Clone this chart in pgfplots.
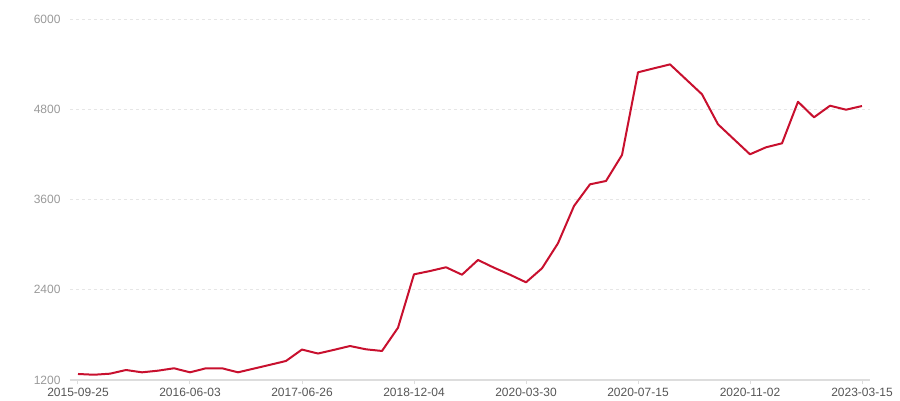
\documentclass[border=0pt]{standalone}
\usepackage{pgfplots}
\pgfplotsset{compat=1.18}
\usepackage{fontspec}
\setmainfont{Liberation Sans}
\definecolor{linered}{HTML}{C8102E}
\definecolor{axisgray}{HTML}{DDDDDD}
\definecolor{gridgray}{HTML}{E6E6E6}
\definecolor{xlab}{HTML}{555555}
\definecolor{ylab}{HTML}{999999}
\begin{document}
\begin{tikzpicture}
\path[use as bounding box] (-70pt,-20pt) rectangle (830pt,380pt);
\begin{axis}[
  at={(0,0)}, anchor=south west,
  scale only axis,
  width=800pt, height=361pt,
  xmin=-0.5, xmax=49.5, ymin=1200, ymax=6000,
  xtick={0,7,14,21,28,35,42,49},
  xticklabels={2015-09-25,2016-06-03,2017-06-26,2018-12-04,2020-03-30,2020-07-15,2020-11-02,2023-03-15},
  ytick={1200,2400,3600,4800,6000},
  axis x line*=bottom,
  axis y line*=left,
  x axis line style={axisgray, line width=1.5pt, -},
  y axis line style={draw=none},
  ymajorgrids,
  grid style={gridgray, dash pattern=on 3pt off 3pt, line width=0.8pt},
  major tick length=4pt,
  xtick style={axisgray, line width=1pt},
  ytick style={draw=none},
  tick align=outside,
  x tick label style={font=\fontsize{12}{14}\selectfont, text=xlab, yshift=-1pt},
  y tick label style={font=\fontsize{12}{14}\selectfont, text=ylab, xshift=-2pt},
  /pgf/number format/assume math mode=true,
  /pgf/number format/1000 sep={},
  clip=false,
]
\addplot[linered, line width=2pt, line join=round] coordinates {
(0,1280) (1,1270) (2,1284) (3,1333) (4,1302) (5,1324) (6,1356) (7,1302)
(8,1356) (9,1356) (10,1302) (11,1352) (12,1402) (13,1453) (14,1605) (15,1552)
(16,1601) (17,1652) (18,1608) (19,1586) (20,1895) (21,2605) (22,2649) (23,2699)
(24,2600) (25,2796) (26,2693) (27,2600) (28,2499) (29,2685) (30,3018) (31,3514)
(32,3802) (33,3846) (34,4192) (35,5291) (36,5344) (37,5397) (38,5198) (39,4999)
(40,4600) (41,4400) (42,4201) (43,4294) (44,4347) (45,4900) (46,4693) (47,4847)
(48,4794) (49,4843)
};
\end{axis}
\end{tikzpicture}
\end{document}
